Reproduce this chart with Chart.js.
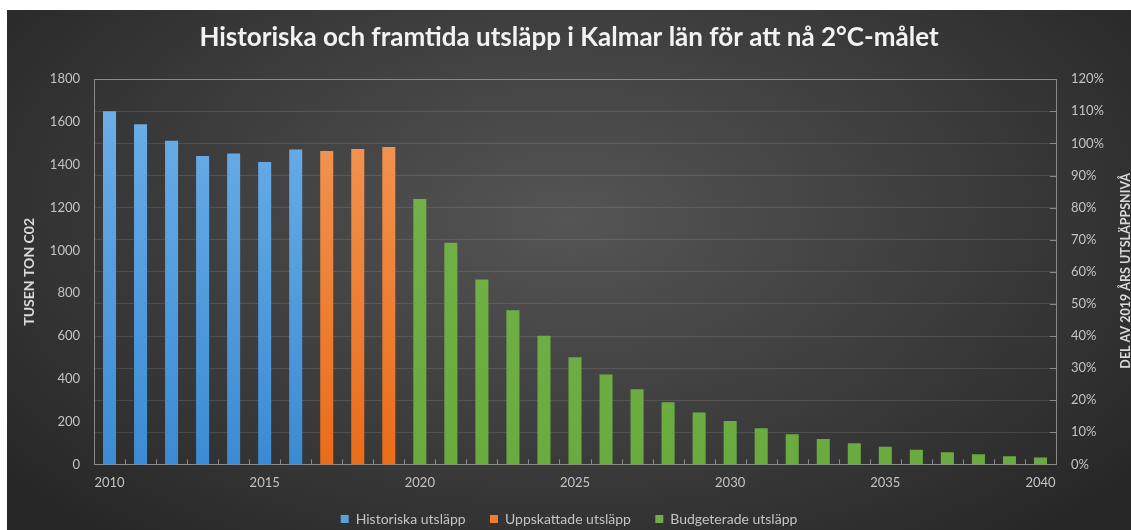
<!DOCTYPE html>
<html>
<head>
<meta charset="utf-8">
<script src="https://cdn.jsdelivr.net/npm/chart.js@4.4.1/dist/chart.umd.min.js"></script>
<style>
  html, body { margin: 0; padding: 0; background: #fff; overflow: hidden; }
  #wrap {
    position: absolute; left: 7px; top: 10px; width: 1124px; height: 526px;
    background: radial-gradient(ellipse 65% 80% at 50% 40%, #555555 0%, #3e3e3e 50%, #262626 100%);
  }
</style>
</head>
<body>
<div id="wrap"><canvas id="chart"></canvas></div>
<script>
const years = ['2010','2011','2012','2013','2014','2015','2016','2017','2018','2019','2020',
  '2021','2022','2023','2024','2025','2026','2027','2028','2029','2030',
  '2031','2032','2033','2034','2035','2036','2037','2038','2039','2040'];
const historiska = [1650, 1590, 1512, 1441, 1453, 1413, 1472];           // 2010-2016
const uppskattade = [1464, 1474, 1483];                                  // 2017-2019
const budgeterade = [1240, 1036, 864, 720, 601, 501, 420, 351, 291, 243, 203,
  169, 141, 119, 99, 82, 68, 57, 48, 38, 32];                            // 2020-2040
const pctTicks = [0, 10, 20, 30, 40, 50, 60, 70, 80, 90, 100, 110, 120];

// pad each series to the full year range
const pad = (arr, start) => years.map((y, i) => (i >= start && i < start + arr.length) ? arr[i - start] : null);

const FONT = 'Lato, "Open Sans", sans-serif';

const grad = (top, bottom) => (ctx) => {
    const a = ctx.chart.chartArea;
    if (!a) return bottom;
    const g = ctx.chart.ctx.createLinearGradient(0, a.top, 0, a.bottom);
    g.addColorStop(0, top);
    g.addColorStop(1, bottom);
    return g;
};

const extras = {
    id: 'extras',
    afterDraw(chart) {
        const { ctx, chartArea: a, scales } = chart;
        ctx.save();
        ctx.strokeStyle = '#8a8a8a';
        ctx.lineWidth = 1;
        // small tick marks between the years, pointing up
        for (let i = 0; i <= years.length; i++) {
            const px = Math.round(scales.x.getPixelForValue(i - 0.5)) + 0.5;
            ctx.beginPath();
            ctx.moveTo(px, a.bottom);
            ctx.lineTo(px, a.bottom - 5);
            ctx.stroke();
        }
        // right axis tick marks, pointing in
        scales.y2.ticks.forEach(t => {
            const py = Math.round(scales.y2.getPixelForValue(t.value)) + 0.5;
            ctx.beginPath();
            ctx.moveTo(a.right - 6, py);
            ctx.lineTo(a.right, py);
            ctx.stroke();
        });
        // right axis title, reads bottom to top
        ctx.translate(1119, (a.top + a.bottom) / 2 - 1);
        ctx.rotate(-Math.PI / 2);
        ctx.font = 'bold 12.5px ' + FONT;
        ctx.fillStyle = '#d9d9d9';
        ctx.textAlign = 'center';
        ctx.textBaseline = 'middle';
        ctx.fillText('DEL AV 2019 ÅRS UTSLÄPPSNIVÅ', 0, 0);
        ctx.restore();
    }
};

new Chart(document.getElementById('chart'), {
    type: 'bar',
    data: {
        labels: years,
        datasets: [
            {
                label: 'Historiska utsläpp',
                data: pad(historiska, 0),
                backgroundColor: grad('#6fb1e9', '#3b8bd4')
            },
            {
                label: 'Uppskattade utsläpp',
                data: pad(uppskattade, 7),
                backgroundColor: grad('#f39a5a', '#ea6c19')
            },
            {
                label: 'Budgeterade utsläpp',
                data: pad(budgeterade, 10),
                backgroundColor: grad('#74b44a', '#6aab40')
            }
        ]
    },
    options: {
        responsive: true,
        maintainAspectRatio: false,
        animation: false,
        barPercentage: 0.42,
        categoryPercentage: 1,
        layout: { padding: { left: 0, right: 0, top: 0, bottom: 0 } },
        plugins: {
            title: {
                display: true,
                text: 'Historiska och framtida utsläpp i Kalmar län för att nå 2°C-målet',
                color: '#f2f2f2',
                font: { family: FONT, size: 26, weight: 'bold' },
                padding: { top: 12, bottom: 26 }
            },
            legend: {
                position: 'bottom',
                labels: {
                    color: '#c4c4c4',
                    font: { family: FONT, size: 14 },
                    boxWidth: 8,
                    boxHeight: 8,
                    padding: 10,
                    generateLabels(chart) {
                        const fills = ['#5aa0dd', '#ee7b2f', '#70ad47'];
                        const n = chart.data.datasets.length;
                        return chart.data.datasets.map((d, i) => ({
                            // trailing spaces widen the gap between items
                            text: i < n - 1 ? d.label + '\u00a0\u00a0\u00a0\u00a0' : d.label,
                            fillStyle: fills[i], strokeStyle: fills[i],
                            lineWidth: 0, fontColor: '#c4c4c4', datasetIndex: i, hidden: false
                        }));
                    }
                }
            },
            tooltip: { enabled: false }
        },
        scales: {
            x: {
                stacked: true,
                grid: { display: false, drawTicks: false },
                border: { display: true, color: '#8a8a8a' },
                ticks: {
                    autoSkip: false,
                    maxRotation: 0,
                    color: '#c4c4c4',
                    font: { family: FONT, size: 13 },
                    padding: 11,
                    callback: (v, i) => (Number(years[i]) % 5 === 0 ? years[i] : '')
                }
            },
            y: {
                stacked: true,
                position: 'left',
                min: 0,
                max: 1800,
                grid: { display: false, drawTicks: false },
                border: { display: true, color: '#8a8a8a' },
                ticks: {
                    stepSize: 200,
                    color: '#c4c4c4',
                    font: { family: FONT, size: 13 },
                    padding: 14,
                    callback: (v) => String(v)
                },
                title: {
                    display: true,
                    text: 'TUSEN TON C02',
                    color: '#d9d9d9',
                    font: { family: FONT, size: 14, weight: 'bold' },
                    padding: { top: 14 }
                },
                afterFit: (s) => { s.width = 87; }
            },
            y2: {
                position: 'right',
                display: true,
                min: 0,
                max: 120,
                grid: {
                    drawTicks: false,
                    color: (c) => (c.tick && c.tick.value === 120 ? '#8a8a8a' : 'rgba(255,255,255,0.11)')
                },
                border: { display: true, color: '#8a8a8a' },
                afterBuildTicks: (s) => { s.ticks = pctTicks.map(v => ({ value: v })); },
                ticks: {
                    color: '#c4c4c4',
                    font: { family: FONT, size: 13 },
                    padding: 15,
                    callback: (v) => v + '%'
                },
                afterFit: (s) => { s.width = 75; }
            }
        }
    },
    plugins: [extras]
});
</script>
</body>
</html>
